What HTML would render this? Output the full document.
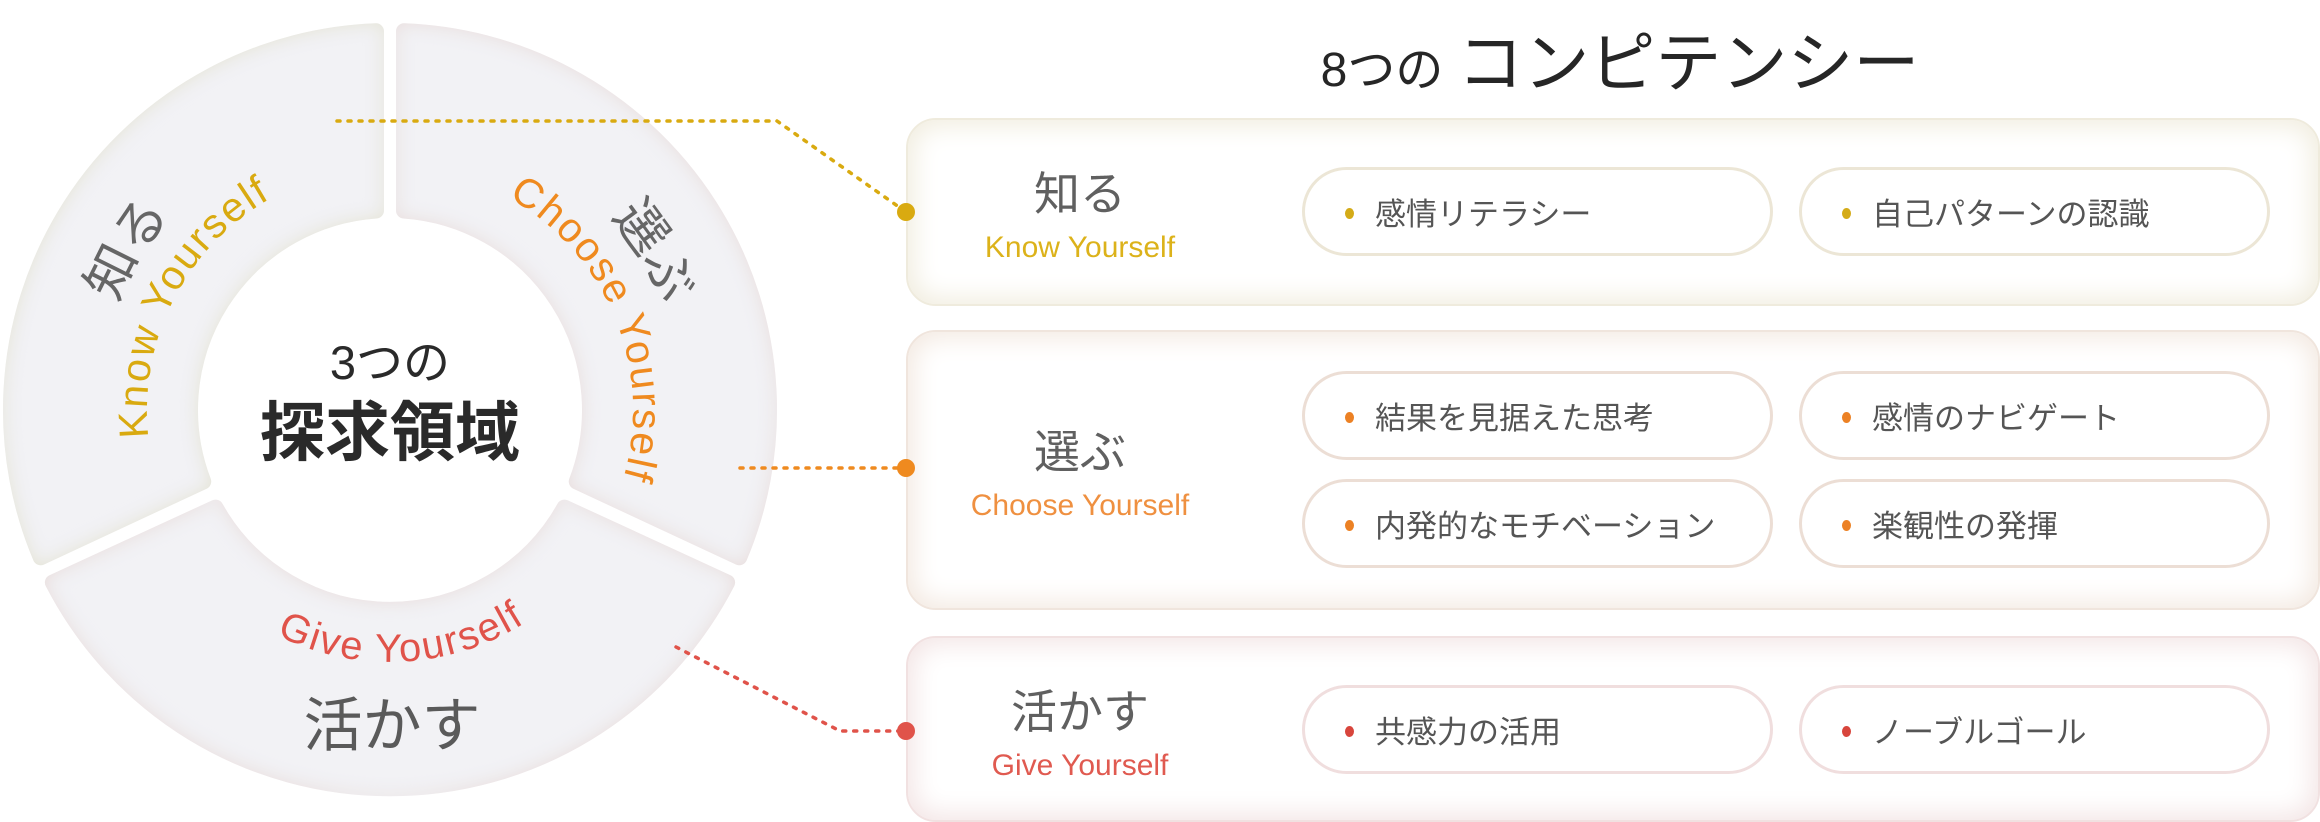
<!DOCTYPE html>
<html><head><meta charset="utf-8"><style>
*{margin:0;padding:0;box-sizing:border-box}
body{width:2320px;height:822px;background:#fff;position:relative;overflow:hidden;font-family:"Liberation Sans","Noto Sans CJK JP",sans-serif;color:#555}
.title{position:absolute;left:1250px;top:10px;width:740px;text-align:center;color:#262626;white-space:nowrap}
.title .a{font-size:48px}.title .b{font-size:66px;margin-left:14px}
.panel{position:absolute;left:906px;width:1414px;border-radius:30px;background:#fff}
.p1{top:118px;height:188px;border:2px solid #efebdd;box-shadow:inset 0 0 26px 6px #f1eddf}
.p2{top:330px;height:280px;border:2px solid #f0e5dd;box-shadow:inset 0 0 26px 6px #f3e9e1}
.p3{top:636px;height:186px;border:2px solid #f1e1e1;box-shadow:inset 0 0 26px 6px #f3e5e5}
.lab{position:absolute;left:906px;width:348px;text-align:center}
.lab .j{font-size:46px;color:#606060;display:block;line-height:52px}
.lab .e{font-size:30px;display:block;line-height:36px;margin-top:10px}
.pill{position:absolute;width:471px;height:89px;border-radius:45px;background:#fff;border:3px solid #ece6d6;font-size:31px;color:#555;line-height:89px;padding-left:70px}
.pill::before{content:"";position:absolute;left:40px;top:38px;width:9px;height:11px;border-radius:50%;background:var(--c)}
.y{--c:#d4ab18}.o{--c:#ec8124}.r{--c:#d8453c}
.o.pill{border-color:#ecded5}.r.pill{border-color:#f0dede}
svg{position:absolute;left:0;top:0}
</style></head><body>
<div class="title"><span class="a">8つの</span><span class="b">コンピテンシー</span></div>
<div class="panel p1"></div><div class="panel p2"></div><div class="panel p3"></div>
<div class="lab" style="top:168px"><span class="j">知る</span><span class="e" style="color:#dcb21a">Know Yourself</span></div>
<div class="lab" style="top:426px"><span class="j">選ぶ</span><span class="e" style="color:#ef9040">Choose Yourself</span></div>
<div class="lab" style="top:686px"><span class="j">活かす</span><span class="e" style="color:#e05a50">Give Yourself</span></div>
<div class="pill y" style="left:1302px;top:167px">感情リテラシー</div>
<div class="pill y" style="left:1799px;top:167px">自己パターンの認識</div>
<div class="pill o" style="left:1302px;top:371px">結果を見据えた思考</div>
<div class="pill o" style="left:1799px;top:371px">感情のナビゲート</div>
<div class="pill o" style="left:1302px;top:479px">内発的なモチベーション</div>
<div class="pill o" style="left:1799px;top:479px">楽観性の発揮</div>
<div class="pill r" style="left:1302px;top:685px">共感力の活用</div>
<div class="pill r" style="left:1799px;top:685px">ノーブルゴール</div>
<svg width="2320" height="822" viewBox="0 0 2320 822">
<defs>
<filter id="gy" x="-5%" y="-5%" width="110%" height="110%"><feFlood flood-color="#e3e2d2" result="f"/><feComposite in="f" in2="SourceAlpha" operator="out" result="o"/><feGaussianBlur in="o" stdDeviation="9" result="b"/><feComposite in="b" in2="SourceAlpha" operator="in" result="g"/><feMerge><feMergeNode in="SourceGraphic"/><feMergeNode in="g"/></feMerge></filter>
<filter id="gp" x="-5%" y="-5%" width="110%" height="110%"><feFlood flood-color="#e8dcda" result="f"/><feComposite in="f" in2="SourceAlpha" operator="out" result="o"/><feGaussianBlur in="o" stdDeviation="9" result="b"/><feComposite in="b" in2="SourceAlpha" operator="in" result="g"/><feMerge><feMergeNode in="SourceGraphic"/><feMergeNode in="g"/></feMerge></filter>
<path id="kn" d="M179.6 521.5 A243 243 0 0 1 432.2 160.7"/>
<path id="sr" d="M136.3 546.5 A293 293 0 0 1 405.3 107.4"/>
<path id="ch" d="M368.8 157.9 A243 243 0 0 1 589.1 539.4"/>
<path id="er" d="M359.4 108.6 A293 293 0 0 1 632.9 563.8"/>
<path id="gv" d="M171.8 526 A252 252 0 0 0 620.2 502.5"/>
</defs>
<g transform="translate(0,10)">
<g stroke-linejoin="round" stroke-width="16" fill="#f2f2f5" stroke="#f2f2f5">
<path filter="url(#gy)" d="M40.7 547.2 A379 379 0 0 1 376 21.3 L376 200.5 A200 200 0 0 0 203.2 471.5 Z"/>
<path filter="url(#gp)" d="M404 21.3 A379 379 0 0 1 739.3 547.2 L576.8 471.5 A200 200 0 0 0 404 200.5 Z"/>
<path filter="url(#gp)" d="M727.1 572.5 A379 379 0 0 1 52.9 572.5 L215.5 497.6 A200 200 0 0 0 564.5 497.6 Z"/>
</g>
<g font-family="Liberation Sans, Noto Sans CJK JP, sans-serif" text-anchor="middle">
<text font-size="41" letter-spacing="2" fill="#d9aa10"><textPath href="#kn" startOffset="44%">Know Yourself</textPath></text>
<text font-size="52" fill="#666"><textPath href="#sr" startOffset="50%">知る</textPath></text>
<text font-size="41" letter-spacing="2" fill="#ef8a1f"><textPath href="#ch" startOffset="56%">Choose Yourself</textPath></text>
<text font-size="52" fill="#666"><textPath href="#er" startOffset="50%">選ぶ</textPath></text>
<text font-size="40" letter-spacing="2" fill="#e0534a"><textPath href="#gv" startOffset="50%">Give Yourself</textPath></text>
</g>
</g>
<g font-family="Liberation Sans, Noto Sans CJK JP, sans-serif" text-anchor="middle">
<text x="392" y="746" font-size="59" fill="#5a5a5a">活かす</text>
<text x="390" y="379" font-size="47" fill="#2a2a2a">3つの</text>
<text x="390" y="455" font-size="65" font-weight="bold" fill="#2a2a2a">探求領域</text>
</g>
<g fill="none" stroke-width="3.5" stroke-dasharray="3 8" stroke-linecap="round">
<path d="M337 121 L777 121 L906 212" stroke="#d9aa10"/>
<path d="M740 468 L906 468" stroke="#ef8a1f"/>
<path d="M676 647 L840 731 L906 731" stroke="#e0534a"/>
</g>
<circle cx="906" cy="212" r="9" fill="#d9aa10"/>
<circle cx="906" cy="468" r="9" fill="#ef8a1f"/>
<circle cx="906" cy="731" r="9" fill="#e0534a"/>
</svg>
</body></html>
